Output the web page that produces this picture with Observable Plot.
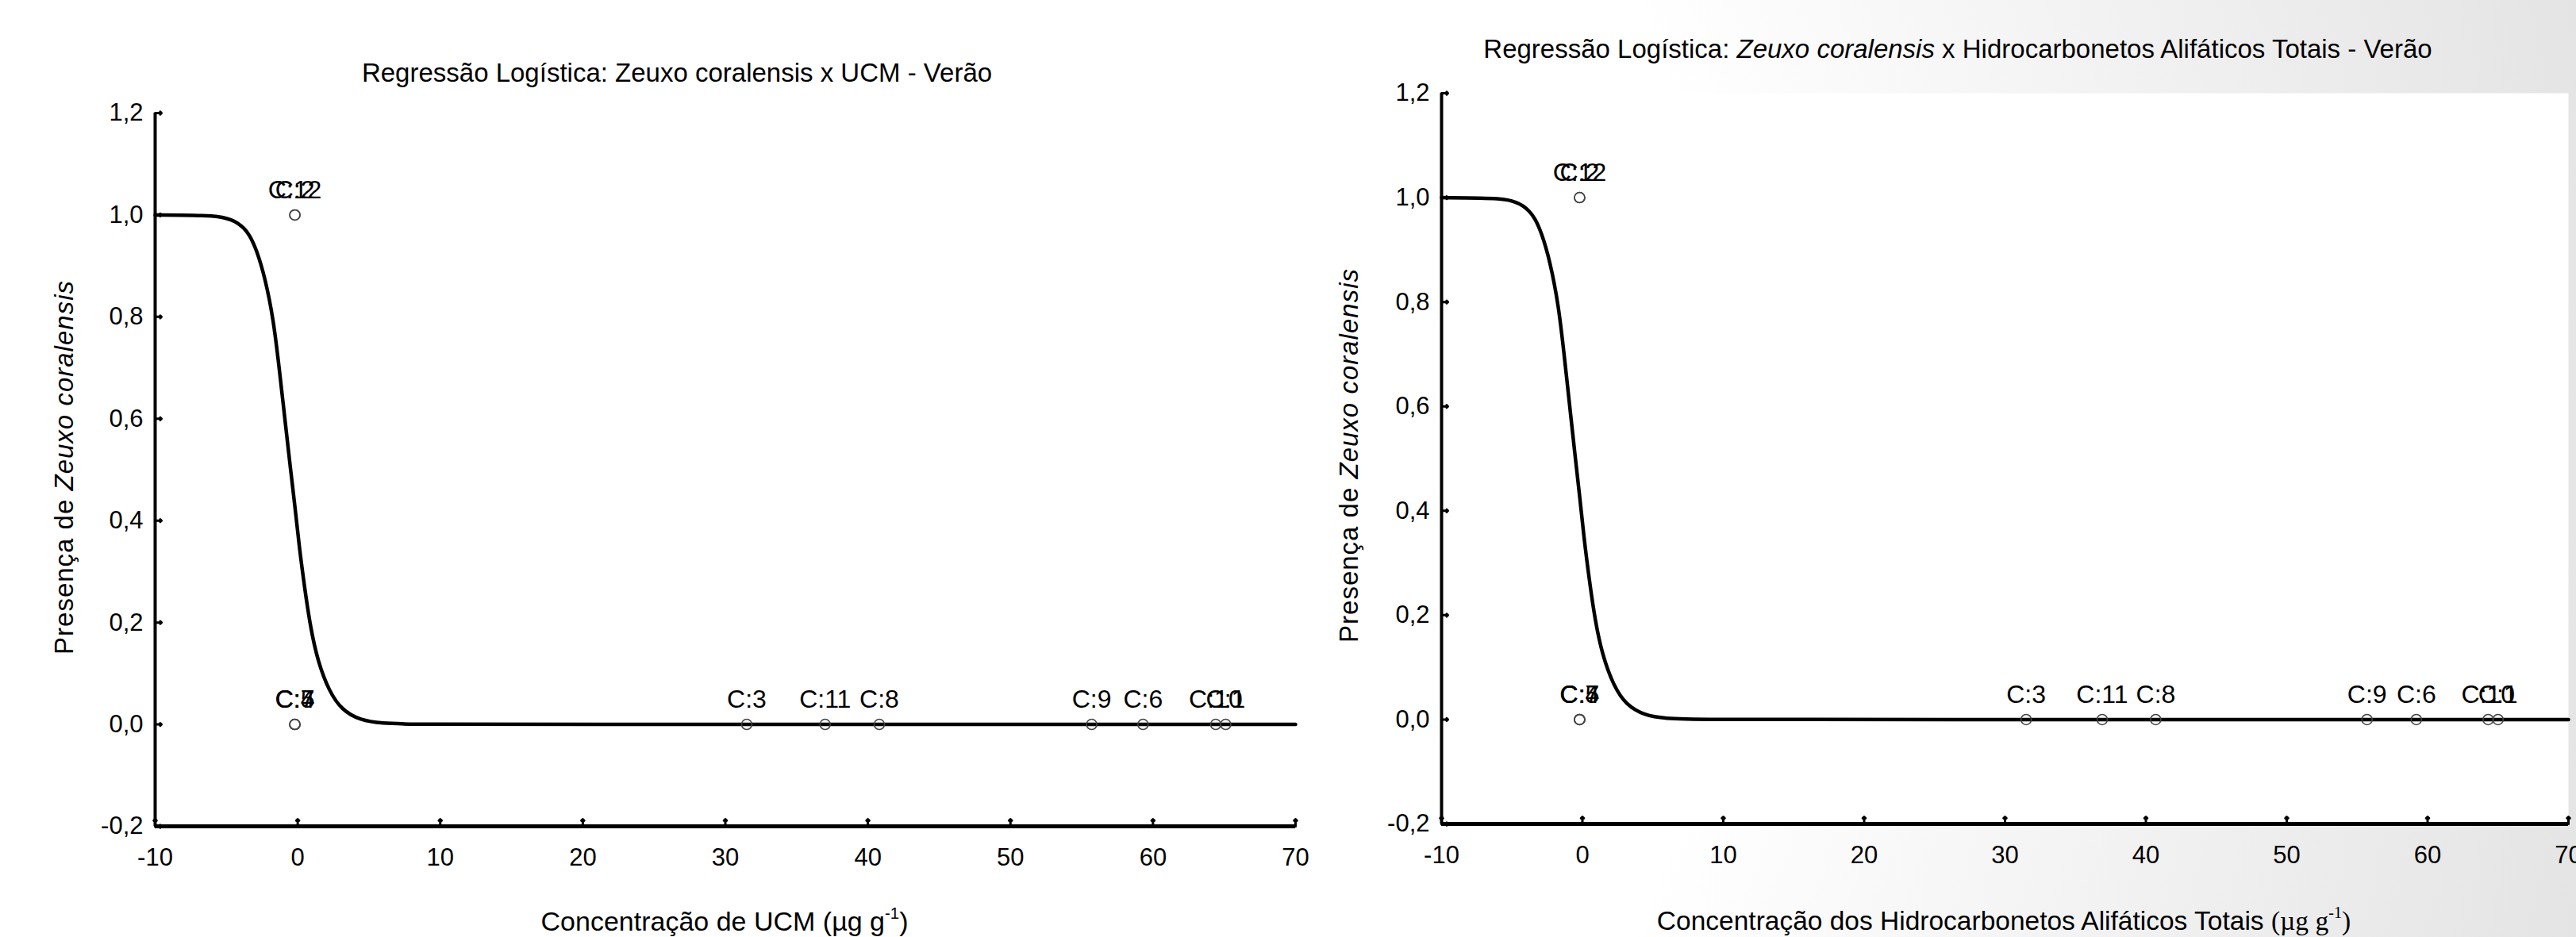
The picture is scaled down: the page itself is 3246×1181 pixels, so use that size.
<!DOCTYPE html>
<html>
<head>
<meta charset="utf-8">
<script src="https://cdn.jsdelivr.net/npm/d3@7"></script>
<script src="https://cdn.jsdelivr.net/npm/@observablehq/plot@0.6"></script>
<style>
  html, body { margin: 0; padding: 0; }
  body {
    width: 3246px; height: 1181px; overflow: hidden; position: relative;
    font-family: "Liberation Sans", Arial, sans-serif; color: #000;
    background: radial-gradient(circle at 25% 50%, #ffffff 55%, #e4e4e4 100%);
  }
  .abs { position: absolute; white-space: nowrap; line-height: 1; }
  .title { font-size: 33px; transform: translateX(-50%); }
  .xlab { font-size: 34px; transform: translateX(-50%); }
  .xlab2 { font-size: 33.5px; transform: translateX(-50%); }
  .ylab { font-size: 33px; letter-spacing: 1px; transform: translate(-50%, -50%) rotate(-90deg); }
  .serif { font-family: "Liberation Serif", "Times New Roman", serif; }
  sup { font-size: 0.6em; vertical-align: 0.75em; line-height: 0; }
  .panel svg { overflow: visible; }
</style>
</head>
<body>
<div id="left" class="abs panel" style="left:0px; top:0px; width:1660px; height:1181px;"></div>
<div id="right" class="abs panel" style="left:1660px; top:0px; width:1586px; height:1181px;"></div>

<div class="abs title" style="left:853px; top:75px;">Regressão Logística: Zeuxo coralensis x UCM - Verão</div>
<div class="abs title" style="left:2467px; top:45px;">Regressão Logística: <i>Zeuxo coralensis</i> x Hidrocarbonetos Alifáticos Totais - Verão</div>

<div class="abs xlab" style="left:913px; top:1144px;">Concentração de UCM (µg g<sup>-1</sup>)</div>
<div class="abs xlab2" style="left:2525px; top:1144px;">Concentração dos Hidrocarbonetos Alifáticos Totais <span class="serif">(µg g<sup>-1</sup>)</span></div>

<div class="abs ylab" style="left:80px; top:589px;">Presença de <i>Zeuxo coralensis</i></div>
<div class="abs ylab" style="left:1699px; top:574px;">Presença de <i>Zeuxo coralensis</i></div>

<script>
// ---- data ----
const caseLabels = ["C:1","C:2","C:3","C:4","C:5","C:6","C:7","C:8","C:9","C:10","C:11","C:12"];
const presence   = [0, 1, 0, 0, 0, 0, 0, 0, 0, 0, 0, 1];
const ucmConc    = [65.1, -0.2, 31.5, -0.2, -0.2, 59.3, -0.2, 40.8, 55.7, 64.4, 37.0, -0.2];
const hatConc    = [65.0, -0.2, 31.5, -0.2, -0.2, 59.2, -0.2, 40.7, 55.7, 64.3, 36.9, -0.2];

// fitted logistic curve
const curveX = [-10, -7, -6, -5.3, -4.6, -4.2, -3.8, -3.4, -2.9, -2.3, -1.7, -1.3, -0.8, -0.5, -0.2, 0.1, 0.5, 0.9, 1.4, 2.2, 3.1, 4.4, 5.9, 8, 20, 70];
const curveY = [1.0, 0.999, 0.998, 0.996, 0.99, 0.984, 0.975, 0.962, 0.933, 0.878, 0.795, 0.7, 0.575, 0.5, 0.43, 0.35, 0.265, 0.19, 0.125, 0.065, 0.028, 0.008, 0.002, 0, 0, 0];

const xTicks = [-10, 0, 10, 20, 30, 40, 50, 60, 70];
const yTicks = [-0.2, 0, 0.2, 0.4, 0.6, 0.8, 1.0, 1.2];
const xDomain = [-10, 70];
const yDomain = [-0.2, 1.2];

const fmtY = d => d.toFixed(1).replace(".", ",");
const fmtX = d => String(d);

function panel(conc, m) {
  const points = caseLabels.map((c, i) => ({label: c, x: conc[i], y: presence[i]}));
  const curve = curveX.map((x, i) => ({x, y: curveY[i]}));
  return Plot.plot({
    width: m.width, height: 1181,
    marginLeft: m.left, marginRight: m.right, marginTop: m.top, marginBottom: m.bottom,
    style: {background: "transparent", fontFamily: "Liberation Sans, Arial, sans-serif", fontSize: "31px", color: "black", overflow: "visible"},
    x: {domain: xDomain},
    y: {domain: yDomain},
    marks: [
      Plot.frame({fill: "white", stroke: "none"}),
      Plot.axisX({ticks: xTicks, tickSize: 0, tickPadding: 27, tickFormat: fmtX, label: null, fontSize: 31}),
      Plot.axisY({ticks: yTicks, tickSize: 0, tickPadding: 15, tickFormat: fmtY, label: null, fontSize: 31}),
      Plot.vector(xTicks, {x: d => d, y: () => yDomain[0], length: 9, rotate: 0, anchor: "start", stroke: "black", strokeWidth: 3}),
      Plot.vector(yTicks, {x: () => xDomain[0], y: d => d, length: 8, rotate: 90, anchor: "start", stroke: "black", strokeWidth: 3}),
      Plot.ruleX([xDomain[0]], {stroke: "black", strokeWidth: 4}),
      Plot.ruleY([yDomain[0]], {stroke: "black", strokeWidth: 5}),
      Plot.line(curve, {x: "x", y: "y", stroke: "black", strokeWidth: 4.5, curve: "basis"}),
      Plot.dot(points, {x: "x", y: "y", r: 6.5, stroke: "#444", strokeWidth: 1.6, fill: "none"}),
      Plot.text(points, {x: "x", y: "y", text: "label", dy: -21, lineAnchor: "bottom", fontSize: 32, fill: "black"})
    ]
  });
}

document.getElementById("left").append(panel(ucmConc, {width: 1660, left: 195, right: 28, top: 142, bottom: 140}));
document.getElementById("right").append(panel(hatConc, {width: 1586, left: 156, right: 10, top: 117, bottom: 143}));
</script>
</body>
</html>
